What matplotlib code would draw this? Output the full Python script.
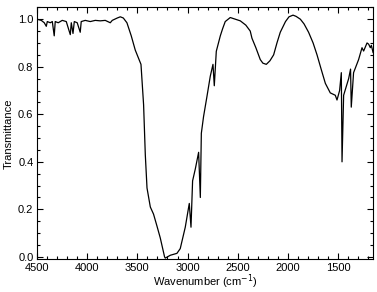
import matplotlib
matplotlib.use("Agg")
import matplotlib.pyplot as plt
from matplotlib.ticker import MultipleLocator

plt.rcParams['font.family'] = ['Liberation Sans', 'DejaVu Sans']

# wavenumber (cm^-1) and transmittance
wavenumber = [4500, 4457, 4427, 4407, 4397, 4367, 4347, 4328, 4318, 4288,
              4248, 4208, 4168, 4158, 4141, 4128, 4099, 4069, 4059, 4019,
              3969, 3919, 3870, 3820, 3770, 3750, 3700, 3670, 3640, 3604,
              3561, 3521, 3464, 3438, 3421, 3404, 3371, 3339, 3305, 3272,
              3229, 3222, 3172, 3106, 3073, 3023, 2983, 2966, 2950, 2923,
              2890, 2873, 2863, 2841, 2807, 2774, 2747, 2734, 2714, 2674,
              2651, 2625, 2575, 2525, 2475, 2420, 2376, 2359, 2320, 2276,
              2250, 2216, 2180, 2143, 2110, 2077, 2025, 1990, 1950, 1920,
              1877, 1840, 1795, 1750, 1711, 1670, 1628, 1579, 1529, 1512,
              1486, 1469, 1462, 1446, 1396, 1377, 1370, 1347, 1297, 1263,
              1247, 1213, 1197, 1180, 1170, 1153]
transmittance = [1.0, 0.995, 0.985, 0.97, 0.99, 0.985, 0.99, 0.93, 0.99, 0.985,
                 0.995, 0.99, 0.935, 0.985, 0.94, 0.99, 0.985, 0.945, 0.99, 0.995,
                 0.99, 0.995, 0.993, 0.995, 0.985, 0.995, 1.005, 1.01, 1.005, 0.985,
                 0.93, 0.87, 0.81, 0.64, 0.43, 0.29, 0.21, 0.18, 0.13, 0.08,
                 0.0, -0.005, 0.007, 0.015, 0.035, 0.125, 0.225, 0.125, 0.32, 0.37,
                 0.44, 0.25, 0.52, 0.59, 0.675, 0.76, 0.81, 0.72, 0.865, 0.93,
                 0.96, 0.99, 1.007, 1.0, 0.993, 0.975, 0.95, 0.92, 0.88, 0.83,
                 0.815, 0.81, 0.825, 0.85, 0.9, 0.945, 0.99, 1.01, 1.017, 1.012,
                 1.0, 0.98, 0.945, 0.9, 0.85, 0.79, 0.73, 0.69, 0.68, 0.66,
                 0.70, 0.775, 0.40, 0.68, 0.75, 0.79, 0.63, 0.775, 0.83, 0.88,
                 0.866, 0.90, 0.895, 0.88, 0.89, 0.86]

fig = plt.figure(figsize=(3.77, 2.92), dpi=100)
ax = fig.add_axes([0.098, 0.112, 0.891, 0.863])

ax.plot(wavenumber, transmittance, color='black', lw=0.9)

ax.set_xlim(4500, 1155)
ax.set_ylim(-0.01, 1.05)
ax.xaxis.set_major_locator(MultipleLocator(500))
ax.xaxis.set_minor_locator(MultipleLocator(100))
ax.yaxis.set_major_locator(MultipleLocator(0.2))
ax.yaxis.set_minor_locator(MultipleLocator(0.05))
ax.yaxis.set_major_formatter(plt.FormatStrFormatter('%.1f'))

ax.tick_params(which='both', direction='in', top=True, right=True, labelsize=8, width=0.8)
ax.tick_params(which='major', length=4, pad=2.5)
ax.tick_params(which='minor', length=2)
for s in ax.spines.values():
    s.set_linewidth(0.8)

ax.set_xlabel('Wavenumber (cm$^{-1}$)', fontsize=8, labelpad=-0.5)
ax.set_ylabel('Transmittance', fontsize=8, labelpad=3)

fig.savefig('out.png', dpi=100)
